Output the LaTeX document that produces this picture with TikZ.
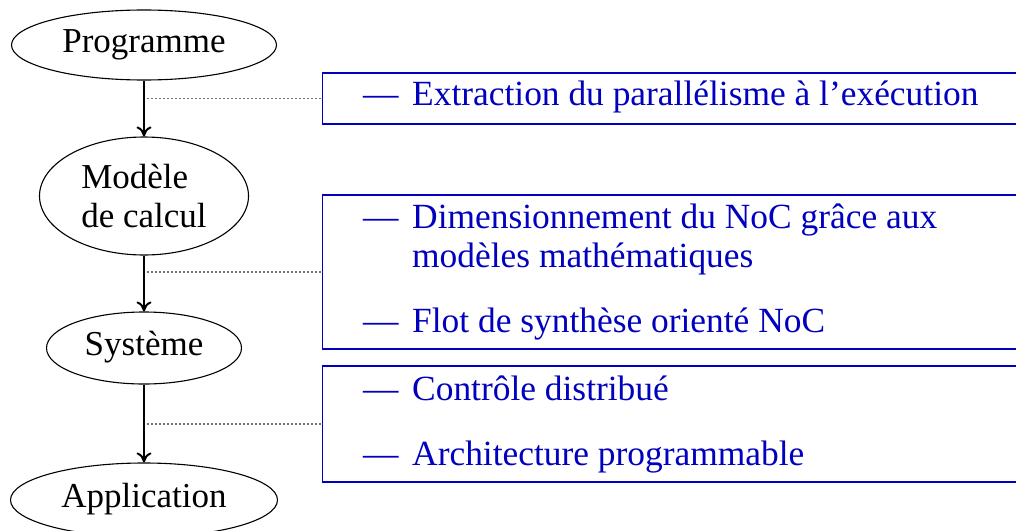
\documentclass[tikz,border=0pt]{standalone}
\usepackage{fontspec}
\setmainfont{Liberation Serif}
\usetikzlibrary{shapes.geometric,arrows.meta}
\definecolor{itemblue}{RGB}{0,0,190}
\tikzset{
  ell/.style={ellipse, draw=black, line width=1.1pt, inner sep=0pt,
    font=\fontsize{35}{39}\selectfont, text height=22pt, text depth=8pt},
  arr/.style={line width=2pt, -{To[length=10pt,width=15pt]}},
  guide/.style={line width=1.3pt, black!55, dash pattern=on 1.5pt off 2.5pt},
  itembox/.style={rectangle, draw=itemblue, line width=1.4pt, anchor=west, inner sep=0pt},
  itemtext/.style={anchor=base west, inner sep=0pt, text=itemblue, font=\fontsize{35.4}{39}\selectfont},
}
\newcommand{\itemdash}{\makebox[49pt][l]{—}}
\begin{document}
\begin{tikzpicture}[x=1pt,y=-1pt]
\useasboundingbox (0,0) rectangle (1016,530);
\clip (0,0) rectangle (1016,530);
% ellipses
\node[ell, minimum width=265pt, minimum height=70pt] (prog) at (144,45) {Programme};
\node[ellipse, draw=black, line width=1.1pt, inner sep=0pt, minimum width=209pt, minimum height=118pt,
  font=\fontsize{35}{39}\selectfont, align=left] (mod) at (144,196) {Modèle\\de calcul};
\node[ell, minimum width=195pt, minimum height=72pt] (sys) at (144,348) {Système};
\node[ell, minimum width=267pt, minimum height=74pt] (app) at (144,500) {Application};
% arrows
\draw[arr] (prog.south) -- (mod.north);
\draw[arr] (mod.south) -- (sys.north);
\draw[arr] (sys.south) -- (app.north);
% boxes
\node[itembox, minimum width=720pt, minimum height=51pt] (b1) at (322,98.5) {};
\node[itembox, minimum width=720pt, minimum height=154pt] (b2) at (322,272) {};
\node[itembox, minimum width=720pt, minimum height=116pt] (b3) at (322,424) {};
% guides
\draw[guide] (b1.west -| prog.south) ++(3,0) coordinate (g1) -- (b1.west);
\draw[guide] (b2.west -| mod.south) ++(3,0) coordinate (g2) -- (b2.west);
\draw[guide] (b3.west -| sys.south) ++(3,0) coordinate (g3) -- (b3.west);
% texts
\node[itemtext] (t1) at (363,105) {\itemdash Extraction du parallélisme à l’exécution};
\node[itemtext] (t2) at (363,228) {\itemdash Dimensionnement du NoC grâce aux};
\node[itemtext] (t2b) at (412,267) {modèles mathématiques};
\node[itemtext] (t3) at (363,332) {\itemdash Flot de synthèse orienté NoC};
\node[itemtext] (t4) at (363,400) {\itemdash Contrôle distribué};
\node[itemtext] (t5) at (363,465) {\itemdash Architecture programmable};
\end{tikzpicture}
\end{document}
